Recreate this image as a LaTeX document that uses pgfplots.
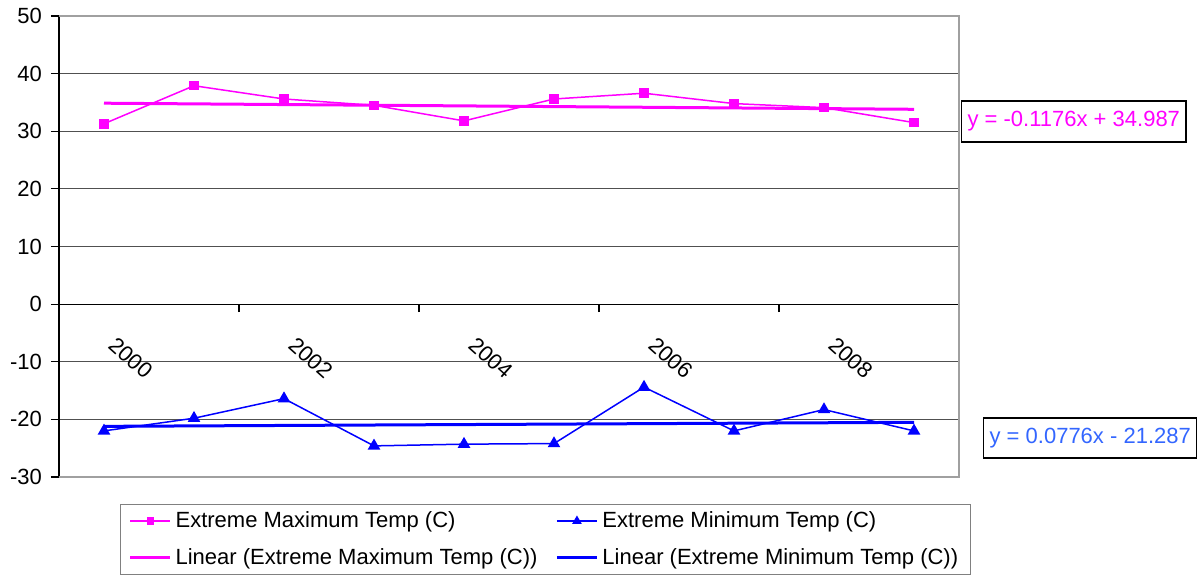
\documentclass[border=0pt]{standalone}
\usepackage{fontspec}
\setmainfont{Liberation Sans}
\usepackage{pgfplots}
\usepackage{pgfplotstable}
\pgfplotsset{compat=1.18}

\definecolor{maxpink}{HTML}{FF00FF}
\definecolor{minblue}{HTML}{0000FF}
\definecolor{eqblue}{HTML}{3366FF}
\definecolor{gridgray}{HTML}{505050}
\definecolor{framegray}{HTML}{A0A0A0}

% Yearly extremes, 2000--2009 plotted at positions 0..9
\pgfplotstableread{
x  tmax  tmin
0  31.3  -22.0
1  37.9  -19.8
2  35.6  -16.4
3  34.5  -24.6
4  31.8  -24.3
5  35.6  -24.2
6  36.6  -14.4
7  34.8  -22.0
8  34.1  -18.3
9  31.5  -22.0
}\extremes

\begin{document}
\begin{tikzpicture}[font=\fontsize{11}{13}\selectfont]
\begin{axis}[
  scale only axis,
  width=450pt, height=230.5pt,
  xmin=-0.5, xmax=9.5,
  ymin=-30, ymax=50,
  clip=false,
  axis x line=middle,
  axis y line=left,
  axis line style={-, black, line width=0.6pt},
  /pgf/number format/assume math mode=true,
  ytick={-30,-20,...,50},
  xtick={0,2,4,6,8},
  xticklabels={2000,2002,2004,2006,2008},
  major tick length=0pt,
  minor ytick={-30,-20,...,50},
  minor xtick={-0.5,1.5,3.5,5.5,7.5,9.5},
  minor tick length=4pt,
  tick align=outside,
  minor tick style={black, line width=0.6pt},
  ymajorgrids,
  grid style={gridgray, line width=0.6pt},
  yticklabel style={xshift=-5pt},
  xticklabel style={xshift=7pt, yshift=-15.5pt, rotate=-42, anchor=north west, inner sep=0pt},
  legend columns=2,
  legend cell align=left,
  legend style={at={(0.0678,-0.0585)}, anchor=north west,
    draw=gray, line width=0.6pt, inner xsep=4pt, inner ysep=1.5pt, row sep=5pt,
    /tikz/every even column/.append style={column sep=7pt}},
  legend image code/.code={
    \draw[mark repeat=2, mark phase=2, #1, mark options={scale=0.7}]
      plot coordinates {(0pt,0pt) (10pt,0pt) (20pt,0pt)};},
]
% plot frame on the three open sides
\draw[framegray, line width=0.6pt] (rel axis cs:0,0) -- (rel axis cs:1,0) -- (rel axis cs:1,1) -- (rel axis cs:0,1);

\addplot[maxpink, line width=0.75pt, mark=square*, mark size=2pt]
  table[x=x, y=tmax] {\extremes};
\addlegendentry{Extreme Maximum Temp (C)}

\addplot[minblue, line width=0.75pt, mark=triangle*, mark size=2.9pt]
  table[x=x, y=tmin] {\extremes};
\addlegendentry{Extreme Minimum Temp (C)}

% linear fits: y = -0.1176x + 34.987 and y = 0.0776x - 21.287, x = 1..10
\addplot[maxpink, line width=1.5pt] coordinates {(0,34.8694) (9,33.811)};
\addlegendentry{Linear (Extreme Maximum Temp (C))}

\addplot[minblue, line width=1.5pt] coordinates {(0,-21.2094) (9,-20.511)};
\addlegendentry{Linear (Extreme Minimum Temp (C))}

\node[draw=black, line width=0.6pt, text=maxpink, anchor=west, inner xsep=3pt, minimum height=20.5pt]
  at (rel axis cs:1.0022,0.771) {y = -0.1176x + 34.987};
\node[draw=black, line width=0.6pt, text=eqblue, anchor=west, inner xsep=3pt, minimum height=20pt]
  at (rel axis cs:1.0267,0.0846) {y = 0.0776x - 21.287};
\end{axis}
\pgfresetboundingbox
\path (current axis.south west) ++(-29.5pt,-50.5pt) rectangle ++(598.5pt,289pt);
\end{tikzpicture}
\end{document}
